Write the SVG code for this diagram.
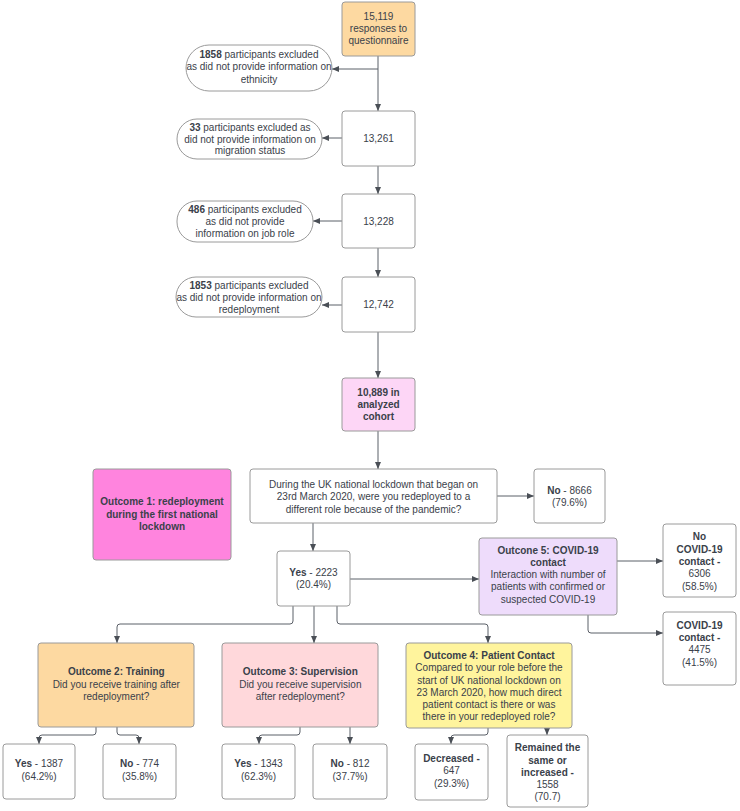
<svg xmlns="http://www.w3.org/2000/svg" width="740" height="811" viewBox="0 0 740 811">
<defs>
<marker id="ah" markerUnits="userSpaceOnUse" markerWidth="8" markerHeight="8" refX="7" refY="3" orient="auto">
<path d="M0,0 L7,3 L0,6 z" fill="#4a4f56"/>
</marker>
<style>
.box{stroke:#9a9a9a;stroke-width:1;fill:#ffffff}
.or{fill:#fdd9a1}
.pk{fill:#fdd6f6}
.hp{fill:#ff84de}
.pu{fill:#eedcfb}
.rd{fill:#ffd8db}
.ye{fill:#fff49d}
.t{font-family:"Liberation Sans",Arial,sans-serif;font-size:10px;fill:#3a414a;text-anchor:middle}
.b{font-weight:bold}
.c path{fill:none;stroke:#5b6068;stroke-width:1;marker-end:url(#ah)}
</style>
</defs>
<rect width="740" height="811" fill="#ffffff"/>
<g class="c" id="connectors">
<path d="M378,56 V111"/>
<path d="M378,69 H332"/>
<path d="M378,166 V194"/>
<path d="M342,138 H322"/>
<path d="M378,248 V277"/>
<path d="M342,221 H313"/>
<path d="M342,305 H322"/>
<path d="M378,332 V378"/>
<path d="M378,431 V469"/>
<path d="M497,496 H534"/>
<path d="M313,523 V551"/>
<path d="M350,579 H479"/>
<path d="M617,561 H663"/>
<path d="M588,615 V630 Q588,633 591,633 H663"/>
<path d="M293,606 V621 Q293,624 290,624 H120 Q117,624 117,627 V643"/>
<path d="M314,606 V643"/>
<path d="M337,606 V621 Q337,624 340,624 H485 Q488,624 488,627 V643"/>
<path d="M96,727 V732 Q96,735 93,735 H42 Q39,735 39,738 V744"/>
<path d="M117,727 V732 Q117,735 120,735 H136 Q139,735 139,738 V744"/>
<path d="M300,727 V732 Q300,735 297,735 H262 Q259,735 259,738 V744"/>
<path d="M350,727 V744"/>
<path d="M488,728 V732 Q488,735 485,735 H454 Q451,735 451,738 V744"/>
<path d="M547,728 V735"/>
</g>
<g id="n_start"><rect class="box or" x="342" y="2" width="73" height="54" rx="3"/>
<text class="t" x="378.5" y="19.5">15,119</text><text class="t" x="378.5" y="31.8">responses to</text><text class="t" x="378.5" y="44">questionnaire</text></g>
<g id="n_ex1"><rect class="box" x="186" y="45" width="146" height="46" rx="23"/>
<text class="t" x="259" y="57.8"><tspan class="b">1858</tspan> participants excluded</text><text class="t" x="259" y="70.2">as did not provide information on</text><text class="t" x="259" y="82.5">ethnicity</text></g>
<g id="n_13261"><rect class="box" x="342" y="111" width="73" height="55" rx="3"/>
<text class="t" x="378.5" y="141.5">13,261</text></g>
<g id="n_ex2"><rect class="box" x="177" y="119" width="145" height="40" rx="20"/>
<text class="t" x="250" y="130.8"><tspan class="b">33</tspan> participants excluded as</text><text class="t" x="250" y="142.6">did not provide information on</text><text class="t" x="250" y="154.4">migration status</text></g>
<g id="n_13228"><rect class="box" x="342" y="194" width="73" height="54" rx="3"/>
<text class="t" x="378.5" y="224.5">13,228</text></g>
<g id="n_ex3"><rect class="box" x="177" y="201" width="136" height="41" rx="20"/>
<text class="t" x="245" y="212.5"><tspan class="b">486</tspan> participants excluded</text><text class="t" x="245" y="224.5">as did not provide</text><text class="t" x="245" y="236.8">information on job role</text></g>
<g id="n_12742"><rect class="box" x="342" y="277" width="73" height="55" rx="3"/>
<text class="t" x="378.5" y="307.5">12,742</text></g>
<g id="n_ex4"><rect class="box" x="176" y="277" width="146" height="40" rx="20"/>
<text class="t" x="249" y="288.5"><tspan class="b">1853</tspan> participants excluded</text><text class="t" x="249" y="300.5">as did not provide information on</text><text class="t" x="249" y="312.5">redeployment</text></g>
<g id="n_cohort"><rect class="box pk" x="342" y="378" width="73" height="53" rx="3"/>
<text class="t b" x="378.5" y="395.5">10,889 in</text><text class="t b" x="378.5" y="407.5">analyzed</text><text class="t b" x="378.5" y="419.5">cohort</text></g>
<g id="n_out1"><rect class="box hp" x="93" y="469" width="138" height="91" rx="3"/>
<text class="t b" x="162" y="505.2">Outcome 1: redeployment</text><text class="t b" x="162" y="517.5">during the first national</text><text class="t b" x="162" y="529.7">lockdown</text></g>
<g id="n_question"><rect class="box" x="250" y="469" width="247" height="54" rx="3"/>
<text class="t" x="373.5" y="487.5">During the UK national lockdown that began on</text><text class="t" x="373.5" y="500">23rd March 2020, were you redeployed to a</text><text class="t" x="373.5" y="512.5">different role because of the pandemic?</text></g>
<g id="n_no8666"><rect class="box" x="534" y="469" width="71" height="54" rx="3"/>
<text class="t" x="569.5" y="493.5"><tspan class="b">No</tspan> - 8666</text><text class="t" x="569.5" y="505.5">(79.6%)</text></g>
<g id="n_yes2223"><rect class="box" x="277" y="551" width="73" height="55" rx="3"/>
<text class="t" x="313.5" y="576"><tspan class="b">Yes</tspan> - 2223</text><text class="t" x="313.5" y="588">(20.4%)</text></g>
<g id="n_out5"><rect class="box pu" x="479" y="538" width="138" height="77" rx="3"/>
<text class="t b" x="548" y="553.5">Outcone 5: COVID-19</text><text class="t b" x="548" y="565.7">contact</text><text class="t" x="548" y="578">Interaction with number of</text><text class="t" x="548" y="590.2">patients with confirmed or</text><text class="t" x="548" y="602.5">suspected COVID-19</text></g>
<g id="n_nocovid"><rect class="box" x="663" y="524" width="73" height="73" rx="3"/>
<text class="t b" x="699.5" y="540.2">No</text><text class="t b" x="699.5" y="552.5">COVID-19</text><text class="t b" x="699.5" y="564.7">contact -</text><text class="t" x="699.5" y="577">6306</text><text class="t" x="699.5" y="589.5">(58.5%)</text></g>
<g id="n_covid"><rect class="box" x="663" y="612" width="73" height="73" rx="3"/>
<text class="t b" x="699.5" y="628.5">COVID-19</text><text class="t b" x="699.5" y="641">contact -</text><text class="t" x="699.5" y="653.3">4475</text><text class="t" x="699.5" y="665.5">(41.5%)</text></g>
<g id="n_out2"><rect class="box or" x="38" y="643" width="156" height="84" rx="3"/>
<text class="t b" x="116.3" y="675.2">Outcome 2: Training</text><text class="t" x="116.3" y="687.5">Did you receive training after</text><text class="t" x="116.3" y="700">redeployment?</text></g>
<g id="n_out3"><rect class="box rd" x="222" y="643" width="156" height="84" rx="3"/>
<text class="t b" x="300.3" y="675.2">Outcome 3: Supervision</text><text class="t" x="300.3" y="687.5">Did you receive supervision</text><text class="t" x="300.3" y="700">after redeployment?</text></g>
<g id="n_out4"><rect class="box ye" x="406" y="643" width="166" height="85" rx="3"/>
<text class="t b" x="489" y="659.2">Outcome 4: Patient Contact</text><text class="t" x="489" y="671.4">Compared to your role before the</text><text class="t" x="489" y="683.6">start of UK national lockdown on</text><text class="t" x="489" y="695.8">23 March 2020, how much direct</text><text class="t" x="489" y="708">patient contact is there or was</text><text class="t" x="489" y="720.2">there in your redeployed role?</text></g>
<g id="n_yes1387"><rect class="box" x="3" y="744" width="72" height="55" rx="3"/>
<text class="t" x="39" y="767.2"><tspan class="b">Yes</tspan> - 1387</text><text class="t" x="39" y="780.2">(64.2%)</text></g>
<g id="n_no774"><rect class="box" x="103" y="744" width="73" height="55" rx="3"/>
<text class="t" x="139.5" y="767.2"><tspan class="b">No</tspan> - 774</text><text class="t" x="139.5" y="780.2">(35.8%)</text></g>
<g id="n_yes1343"><rect class="box" x="222" y="744" width="73" height="55" rx="3"/>
<text class="t" x="258.5" y="767.2"><tspan class="b">Yes</tspan> - 1343</text><text class="t" x="258.5" y="780.2">(62.3%)</text></g>
<g id="n_no812"><rect class="box" x="313" y="744" width="74" height="55" rx="3"/>
<text class="t" x="350" y="767.2"><tspan class="b">No</tspan> - 812</text><text class="t" x="350" y="780.2">(37.7%)</text></g>
<g id="n_decreased"><rect class="box" x="415" y="744" width="73" height="56" rx="3"/>
<text class="t b" x="451.5" y="761.5">Decreased -</text><text class="t" x="451.5" y="774">647</text><text class="t" x="451.5" y="786.5">(29.3%)</text></g>
<g id="n_remained"><rect class="box" x="507" y="735" width="81" height="72" rx="3"/>
<text class="t b" x="547.5" y="751.2">Remained the</text><text class="t b" x="547.5" y="763.5">same or</text><text class="t b" x="547.5" y="775.7">increased -</text><text class="t" x="547.5" y="788">1558</text><text class="t" x="547.5" y="800.2">(70.7)</text></g>
</svg>
